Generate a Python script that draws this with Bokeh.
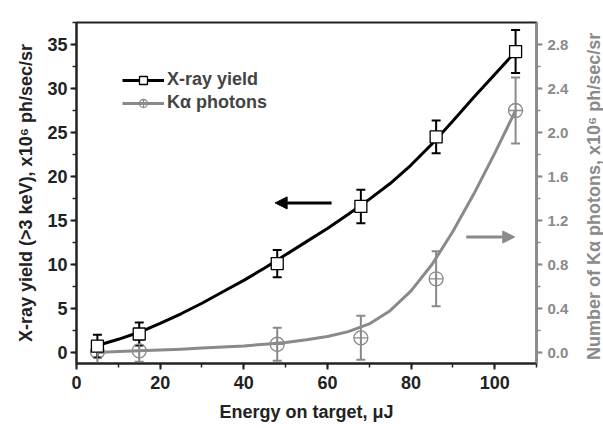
import math
from bokeh.plotting import figure
from bokeh.layouts import row
from bokeh.models import (Range1d, LinearAxis, SingleIntervalTicker, ColumnDataSource,
                          Whisker, TeeHead, Legend, LegendItem, Arrow, NormalHead,
                          PrintfTickFormatter, Label)
from bokeh.embed import file_html
from bokeh.resources import INLINE

# ---- data ----
energy = [5, 15, 48, 68, 86, 105]
xray_yield = [0.72, 2.1, 10.1, 16.6, 24.5, 34.2]
xray_err = [1.3, 1.3, 1.55, 1.9, 1.85, 2.45]
ka_photons = [0.005, 0.015, 0.075, 0.133, 0.67, 2.2]
ka_err = [0.1, 0.1, 0.15, 0.2, 0.25, 0.3]

fit_energy = [5, 10, 15, 20, 25, 30, 35, 40, 45, 50, 55, 60, 65, 70, 75, 80, 85, 90, 95, 100, 105]
xray_fit = [0.8, 1.5, 2.3, 3.3, 4.4, 5.6, 6.9, 8.2, 9.6, 11.1, 12.6, 14.1, 15.7, 17.4, 19.2,
            21.3, 23.7, 26.3, 29.0, 31.6, 34.2]
ka_fit = [0.0, 0.008, 0.015, 0.022, 0.03, 0.04, 0.05, 0.06, 0.075, 0.09, 0.115, 0.145, 0.19,
          0.26, 0.38, 0.56, 0.8, 1.1, 1.44, 1.81, 2.2]

left_arrow = dict(x_start=61, x_end=47.5, y=17.0)
right_arrow = dict(x_start=93.2, x_end=104.8, y=1.05)

right_label_text = "Number of Kα photons, x10⁶ ph/sec/sr"

FONT = "Liberation Sans"
GREY = "#8a8a8a"

p = figure(width=578, height=428, output_backend="svg", toolbar_location=None,
           x_range=Range1d(0, 110), y_range=Range1d(-1.25, 37.5),
           min_border_left=76, min_border_right=42, min_border_top=22, min_border_bottom=65)
p.extra_y_ranges = {"k": Range1d(-0.1, 3.0)}
p.xgrid.grid_line_color = None
p.ygrid.grid_line_color = None
p.outline_line_color = "#222222"
p.outline_line_width = 2
p.background_fill_color = "white"
p.border_fill_color = "white"

xs = ColumnDataSource(dict(x=energy, y=xray_yield,
                           lo=[v - e for v, e in zip(xray_yield, xray_err)],
                           hi=[v + e for v, e in zip(xray_yield, xray_err)]))
ks = ColumnDataSource(dict(x=energy, y=ka_photons,
                           lo=[v - e for v, e in zip(ka_photons, ka_err)],
                           hi=[v + e for v, e in zip(ka_photons, ka_err)]))

wk = Whisker(source=ks, base="x", upper="hi", lower="lo", dimension="height",
             y_range_name="k", line_color=GREY, line_width=2,
             upper_head=TeeHead(size=9, line_color=GREY, line_width=2),
             lower_head=TeeHead(size=9, line_color=GREY, line_width=2))
p.add_layout(wk)
wx = Whisker(source=xs, base="x", upper="hi", lower="lo", dimension="height",
             line_color="black", line_width=2,
             upper_head=TeeHead(size=9, line_color="black", line_width=2),
             lower_head=TeeHead(size=9, line_color="black", line_width=2))
p.add_layout(wx)

kl = p.line(fit_energy, ka_fit, y_range_name="k", line_color=GREY, line_width=3,
            line_join="round")
xl = p.line(fit_energy, xray_fit, line_color="black", line_width=3, line_join="round")
km = p.scatter("x", "y", source=ks, y_range_name="k", marker="circle_cross", size=14,
               fill_color=None, line_color=GREY, line_width=1.3)
xm = p.scatter("x", "y", source=xs, marker="square", size=12,
               fill_color="white", line_color="black", line_width=1.3)

p.add_layout(Arrow(end=NormalHead(size=12, fill_color="black", line_color="black"),
                   x_start=left_arrow["x_start"], x_end=left_arrow["x_end"],
                   y_start=left_arrow["y"], y_end=left_arrow["y"],
                   line_color="black", line_width=3))
p.add_layout(Arrow(end=NormalHead(size=12, fill_color=GREY, line_color=GREY),
                   x_start=right_arrow["x_start"], x_end=right_arrow["x_end"],
                   y_start=right_arrow["y"], y_end=right_arrow["y"],
                   y_range_name="k", line_color=GREY, line_width=3))

# axes
def style(ax, color, size):
    ax.axis_line_color = color
    ax.axis_line_width = 2
    ax.major_tick_line_color = color
    ax.minor_tick_line_color = color
    ax.major_tick_line_width = 2
    ax.minor_tick_line_width = 1.5
    ax.major_tick_in = 0
    ax.major_tick_out = 6
    ax.minor_tick_in = 0
    ax.minor_tick_out = 4
    ax.major_label_text_font = FONT
    ax.major_label_text_font_style = "bold"
    ax.major_label_text_font_size = size
    ax.major_label_text_color = color
    ax.axis_label_text_font = FONT
    ax.axis_label_text_font_style = "bold"
    ax.axis_label_text_font_size = "18px"
    ax.axis_label_text_color = color

xa = p.xaxis[0]
xa.ticker = SingleIntervalTicker(interval=20, num_minor_ticks=2)
xa.axis_label = "Energy on target, μJ"
style(xa, "#222222", "18px")
xa.major_label_standoff = 6
xa.axis_label_standoff = 10

ya = p.yaxis[0]
ya.ticker = SingleIntervalTicker(interval=5, num_minor_ticks=2)
ya.axis_label = "X-ray yield (>3 keV), x10⁶ ph/sec/sr"
style(ya, "#222222", "18px")
ya.major_label_standoff = 3
ya.axis_label_standoff = 8

ra = LinearAxis(y_range_name="k", ticker=SingleIntervalTicker(interval=0.4, num_minor_ticks=2),
                formatter=PrintfTickFormatter(format="%.1f"))
style(ra, GREY, "15px")
ra.major_label_standoff = 5
p.add_layout(ra, "right")

legend = Legend(items=[LegendItem(label="X-ray yield", renderers=[xl, xm]),
                       LegendItem(label="Kα photons", renderers=[kl, km])],
                location=(46, 250), orientation="vertical",
                label_text_font=FONT, label_text_font_style="bold",
                label_text_font_size="18px", glyph_width=42, glyph_height=20,
                label_height=20, spacing=2, padding=0, margin=0, label_standoff=3,
                border_line_color=None, background_fill_alpha=0)
p.add_layout(legend)

# narrow strip on the right that carries the right-axis title (reads bottom-to-top)
q = figure(width=25, height=428, output_backend="svg", toolbar_location=None,
           x_range=Range1d(0, 1), y_range=Range1d(0, 1), x_axis_type=None, y_axis_type=None,
           min_border_left=0, min_border_right=0, min_border_top=0, min_border_bottom=0)
q.outline_line_color = None
q.xgrid.grid_line_color = None
q.ygrid.grid_line_color = None
q.add_layout(Label(x=0.62, y=0.49, text=right_label_text, angle=math.pi / 2,
                   text_align="center", text_baseline="middle", text_font=FONT,
                   text_font_style="bold", text_font_size="18px", text_color=GREY))

layout = row(p, q, spacing=0)
open("out.html", "w").write(file_html(layout, INLINE))
